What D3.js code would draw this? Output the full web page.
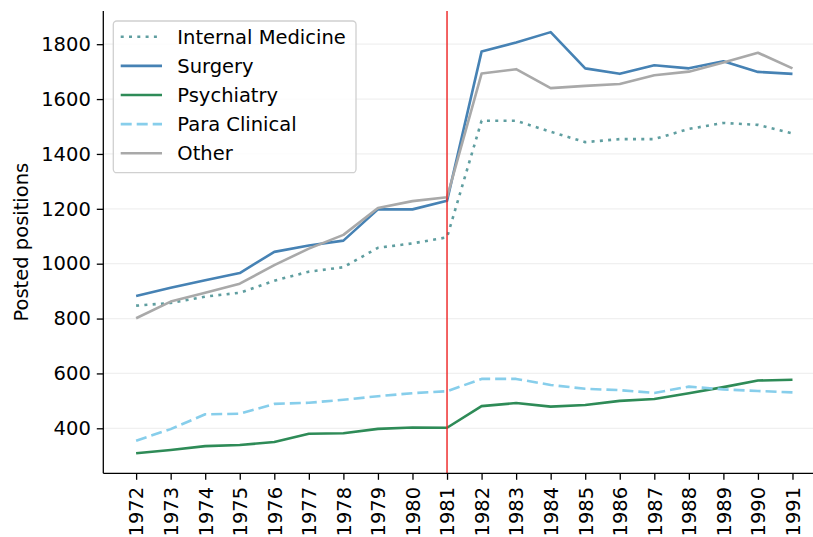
<!DOCTYPE html>
<html>
<head>
<meta charset="utf-8">
<script src="https://cdn.jsdelivr.net/npm/d3@7"></script>
<style>
  html, body { margin: 0; padding: 0; background: #fff; }
  svg { display: block; font-family: "DejaVu Sans", sans-serif; }
</style>
</head>
<body>
<svg id="chart" width="813" height="537"></svg>
<script>
// Posted positions by specialty, 1972-1991
const years = [1972, 1973, 1974, 1975, 1976, 1977, 1978, 1979, 1980, 1981,
               1982, 1983, 1984, 1985, 1986, 1987, 1988, 1989, 1990, 1991];
const internalMedicine = [847, 857, 880, 894, 938, 971, 987, 1058, 1074, 1096,
                          1521, 1521, 1481, 1443, 1454, 1454, 1491, 1513, 1506, 1475];
const surgery = [882, 912, 940, 966, 1043, 1066, 1084, 1198, 1198, 1229,
                 1773, 1806, 1844, 1712, 1692, 1723, 1712, 1738, 1699, 1692];
const psychiatry = [309, 321, 335, 339, 350, 380, 382, 398, 403, 402,
                    481, 492, 479, 485, 500, 507, 528, 550, 574, 577];
const paraClinical = [355, 397, 451, 453, 489, 493, 504, 517, 528, 535,
                      580, 580, 558, 544, 539, 529, 552, 542, 536, 531];
const other = [801, 862, 894, 927, 995, 1055, 1105, 1203, 1228, 1242,
               1693, 1709, 1640, 1648, 1655, 1687, 1700, 1733, 1769, 1712];
const yTicks = [400, 600, 800, 1000, 1200, 1400, 1600, 1800];
const markerYear = 1981;

const series = [
  { name: "Internal Medicine", values: internalMedicine, color: "#5f9ea0", dash: "3,5.3" },
  { name: "Surgery",           values: surgery,          color: "#4682b4", dash: null },
  { name: "Psychiatry",        values: psychiatry,       color: "#2e8b57", dash: null },
  { name: "Para Clinical",     values: paraClinical,     color: "#87ceeb", dash: "11,5" },
  { name: "Other",             values: other,            color: "#a9a9a9", dash: null }
];

const svg = d3.select("#chart");
const plotLeft = 103.3, plotRight = 825.3, plotTop = 11, plotBottom = 473.3;
const fontSize = 19.5;

const x = d3.scaleLinear().domain([1971.05, 1991.95]).range([plotLeft, plotRight]);
const y = d3.scaleLinear().domain([236, 1921]).range([plotBottom, plotTop]);

// horizontal grid
svg.append("g")
  .selectAll("line")
  .data(yTicks)
  .join("line")
  .attr("x1", plotLeft).attr("x2", plotRight)
  .attr("y1", d => y(d)).attr("y2", d => y(d))
  .attr("stroke", "#f0f0f0").attr("stroke-width", 1.3);

// lines
const line = d3.line().x((d, i) => x(years[i])).y(d => y(d));
const lines = svg.append("g");
series.forEach(s => {
  lines.append("path")
    .datum(s.values)
    .attr("d", line)
    .attr("fill", "none")
    .attr("stroke", s.color)
    .attr("stroke-width", 2.6)
    .attr("stroke-linejoin", "round")
    .attr("stroke-dasharray", s.dash);
});

// vertical marker
svg.append("line")
  .attr("x1", x(markerYear)).attr("x2", x(markerYear))
  .attr("y1", plotTop).attr("y2", plotBottom)
  .attr("stroke", "#ee2222").attr("stroke-width", 1.4);

// y axis
const yAxis = svg.append("g")
  .attr("transform", `translate(${plotLeft},0)`)
  .call(d3.axisLeft(y).tickValues(yTicks).tickSize(6.5).tickPadding(6).tickFormat(d3.format("d")));
yAxis.select(".domain").attr("d", `M0,${plotTop}V${plotBottom}`).attr("stroke", "#000").attr("stroke-width", 1.3);
yAxis.selectAll(".tick line").attr("stroke", "#000").attr("stroke-width", 1.3);
yAxis.selectAll(".tick text").attr("font-size", fontSize).attr("font-family", "DejaVu Sans").attr("fill", "#000");

// x axis
const xAxis = svg.append("g")
  .attr("transform", `translate(0,${plotBottom})`)
  .call(d3.axisBottom(x).tickValues(years).tickSize(6.5).tickFormat(d3.format("d")));
xAxis.select(".domain").attr("d", `M${plotLeft},0H${plotRight}`).attr("stroke", "#000").attr("stroke-width", 1.3);
xAxis.selectAll(".tick line").attr("stroke", "#000").attr("stroke-width", 1.3);
xAxis.selectAll(".tick text")
  .attr("font-size", fontSize).attr("font-family", "DejaVu Sans").attr("fill", "#000")
  .attr("transform", "rotate(-90)")
  .attr("x", -13.5).attr("y", 0).attr("dy", "0.35em")
  .attr("text-anchor", "end");

// y axis title
svg.append("text")
  .attr("transform", `translate(28,${(plotTop + plotBottom) / 2}) rotate(-90)`)
  .attr("text-anchor", "middle")
  .attr("font-size", fontSize)
  .attr("fill", "#000")
  .text("Posted positions");

// legend
const legend = svg.append("g");
legend.append("rect")
  .attr("x", 113.3).attr("y", 21)
  .attr("width", 242.7).attr("height", 151.7)
  .attr("rx", 3.5)
  .attr("fill", "#fff").attr("fill-opacity", 0.8)
  .attr("stroke", "#d0d0d0").attr("stroke-width", 1.3);
series.forEach((s, i) => {
  const cy = 36.7 + i * 29.15;
  legend.append("line")
    .attr("x1", 120.7).attr("x2", 162)
    .attr("y1", cy).attr("y2", cy)
    .attr("stroke", s.color).attr("stroke-width", 2.6)
    .attr("stroke-dasharray", s.dash);
  legend.append("text")
    .attr("x", 177.3).attr("y", cy).attr("dy", "0.35em")
    .attr("font-size", fontSize).attr("fill", "#000")
    .text(s.name);
});
</script>
</body>
</html>
